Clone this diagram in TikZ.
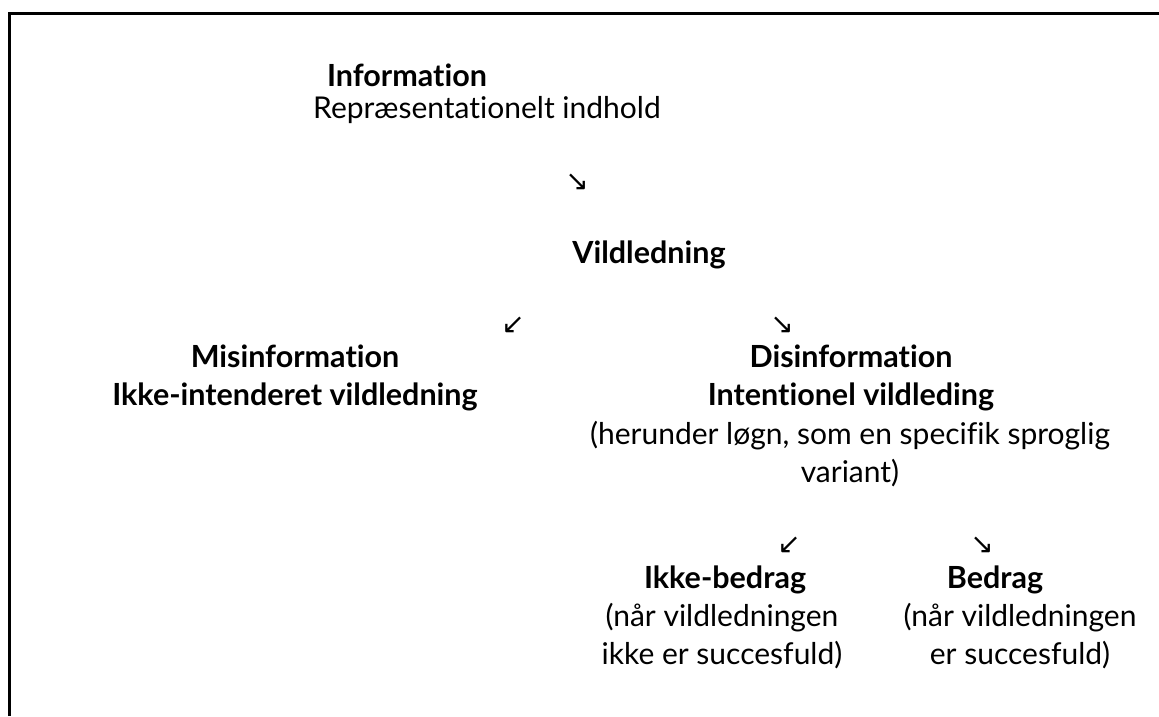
\documentclass[tikz,border=0pt]{standalone}
\usepackage{fontspec}
\setmainfont{Lato}[Ligatures=NoCommon]
\newfontfamily\arrowfont{DejaVu Sans}
\begin{document}
\begin{tikzpicture}[x=1pt,y=-1pt,
  txt/.style={inner sep=0pt,font=\fontsize{30}{37.5}\selectfont,align=center},
  head/.style={txt,font=\fontsize{30.5}{37.5}\selectfont\bfseries},
  arr/.style={inner sep=0pt,font=\arrowfont\fontsize{28}{30}\selectfont}]
\useasboundingbox (0,0) rectangle (1159,716);
\draw[line width=3pt] (9,716) -- (9,13) -- (1159,13);
\node[head] (info) at (407,75) {Information};
\node[txt] (repr) at (487,110) {Repræsentationelt indhold};
\node[arr] (a1) at (577,182) {↘};
\node[head] (vild) at (649,255) {Vildledning};
\node[arr] (a2) at (513,325) {↙};
\node[arr] (a3) at (782,325) {↘};
\node[head] (mis) at (295,378) {Misinformation\\Ikke-intenderet vildledning};
\node[head] (dis) at (851,378) {Disinformation\\Intentionel vildleding};
\node[txt] (herunder) at (850,454) {(herunder løgn, som en specifik sproglig\\variant)};
\node[arr] (a4) at (789,545) {↙};
\node[arr] (a5) at (982,545) {↘};
\node[head] (ikke) at (725,580) {Ikke-bedrag};
\node[txt] (ikket) at (722,636) {(når vildledningen\\ikke er succesfuld)};
\node[head] (bedrag) at (995,580) {Bedrag};
\node[txt] (bedragt) at (1020,636) {(når vildledningen\\er succesfuld)};
\end{tikzpicture}
\end{document}
